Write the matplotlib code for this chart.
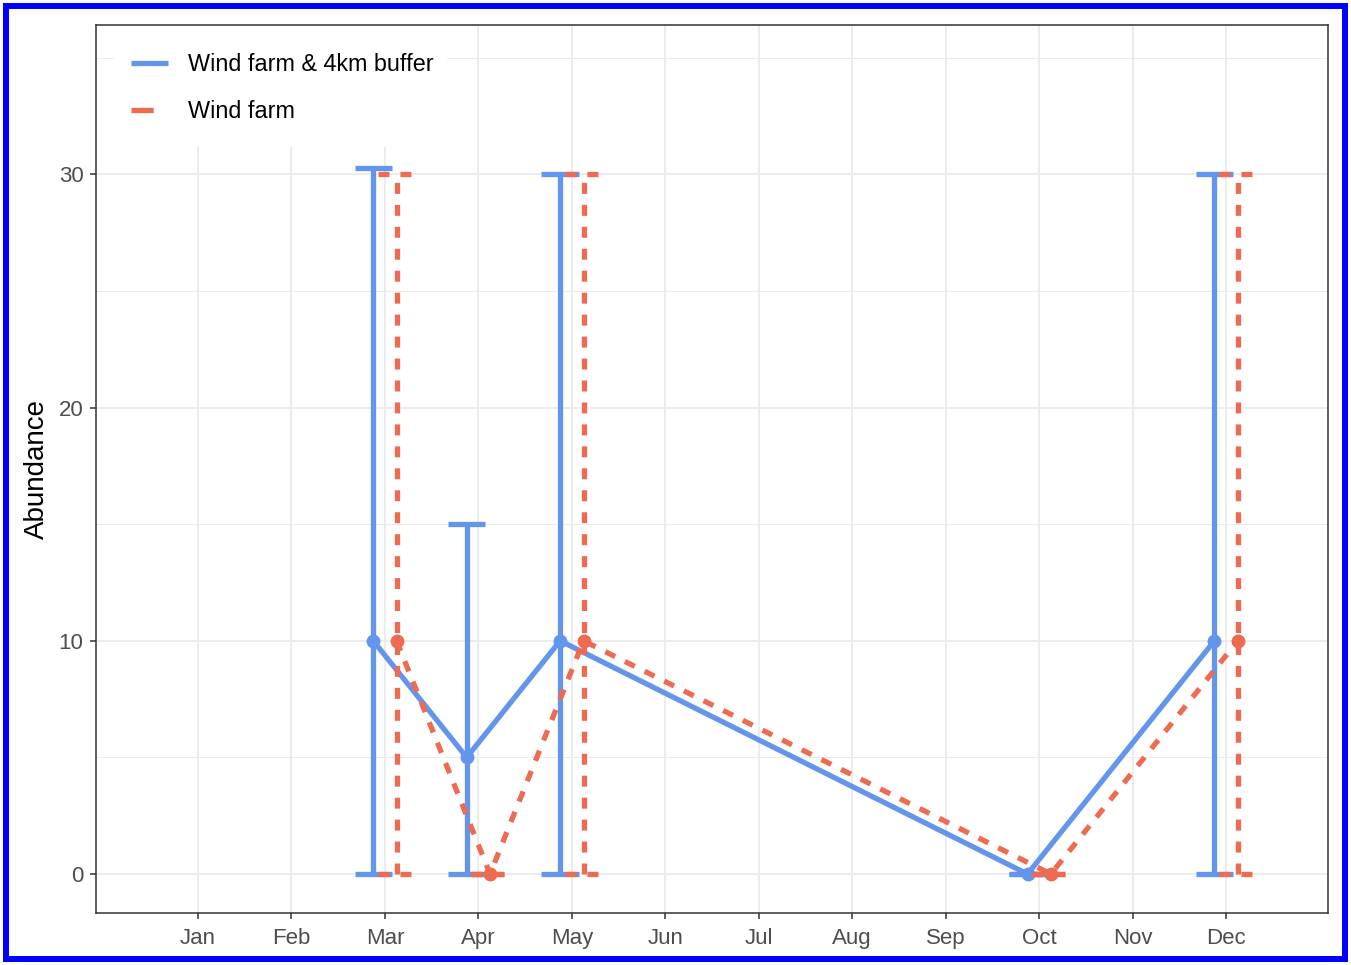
import matplotlib.pyplot as plt
from matplotlib.lines import Line2D
from matplotlib.patches import Rectangle

plt.rcParams['font.family'] = ['Liberation Sans', 'DejaVu Sans']

month_labels = ['Jan', 'Feb', 'Mar', 'Apr', 'May', 'Jun',
                'Jul', 'Aug', 'Sep', 'Oct', 'Nov', 'Dec']
survey_months = [3, 4, 5, 10, 12]

# Wind farm & 4km buffer
buffer_mean = [10, 5, 10, 0, 10]
buffer_low = [0, 0, 0, 0, 0]
buffer_high = [30.25, 15, 30, 0, 30]

# Wind farm only
farm_mean = [10, 0, 10, 0, 10]
farm_low = [0, 0, 0, 0, 0]
farm_high = [30, 0, 30, 0, 30]

series_names = ['Wind farm & 4km buffer', 'Wind farm']

BLUE = '#6495ED'
RED = '#EE6A50'
LW = 3.8
DASH = (0, (2.08, 2.08))
DODGE = 0.125
CAP = 0.2

fig = plt.figure(figsize=(13.51, 9.65), dpi=100)
ax = fig.add_axes([0.0711, 0.0539, 0.9119, 0.9202])


def draw_series(offset, mean, low, high, color, ls, z):
    xs = [m + offset for m in survey_months]
    caps_x0 = [x - CAP for x in xs]
    caps_x1 = [x + CAP for x in xs]
    for coll in (ax.vlines(xs, low, high, colors=color, linewidth=LW, linestyles=ls, zorder=z),
                 ax.hlines(low, caps_x0, caps_x1, colors=color, linewidth=LW, linestyles=ls, zorder=z),
                 ax.hlines(high, caps_x0, caps_x1, colors=color, linewidth=LW, linestyles=ls, zorder=z)):
        coll.set_capstyle('butt')
    line, = ax.plot(xs, mean, color=color, linewidth=LW, linestyle=ls, zorder=z + 0.1)
    line.set_dash_capstyle('butt')
    line.set_solid_capstyle('butt')
    ax.plot(xs, mean, 'o', color=color, markersize=10, markeredgewidth=0, zorder=z + 0.2)


draw_series(-DODGE, buffer_mean, buffer_low, buffer_high, BLUE, '-', 3)
draw_series(DODGE, farm_mean, farm_low, farm_high, RED, DASH, 4)

ax.set_xlim(-0.09, 13.09)
ax.set_ylim(-1.67, 36.4)
ax.set_xticks(range(1, 13))
ax.set_xticklabels(month_labels)
ax.set_yticks([0, 10, 20, 30])
ax.set_yticks([5, 15, 25, 35], minor=True)
ax.tick_params(axis='both', which='major', labelsize=16, labelcolor='#4D4D4D',
               color='#333333', length=4, width=1.1)
ax.tick_params(axis='x', which='major', pad=7)
ax.tick_params(axis='y', which='major', pad=5)
ax.tick_params(axis='y', which='minor', length=0)

ax.grid(True, which='major', color='#EBEBEB', linewidth=1.3, zorder=0)
ax.grid(True, which='minor', axis='y', color='#EBEBEB', linewidth=0.7, zorder=0)
ax.set_axisbelow(True)
for sp in ax.spines.values():
    sp.set_color('#333333')
    sp.set_linewidth(1.1)

ax.set_ylabel('Abundance', fontsize=20, color='black', labelpad=6)

# white legend background that hides the grid behind it
ax.add_patch(Rectangle((0.0146, 0.8626), 0.2704, 0.1374, transform=ax.transAxes,
                       facecolor='white', edgecolor='none', zorder=1))

handles = [
    Line2D([], [], color=BLUE, linewidth=LW, solid_capstyle='butt'),
    Line2D([], [], color=RED, linewidth=LW, linestyle=(0, (4.2, 4)), dash_capstyle='butt'),
]
leg = ax.legend(handles, series_names, loc='upper left', bbox_to_anchor=(0.0284, 0.9684),
                borderaxespad=0, borderpad=0, fontsize=16.8, frameon=False,
                handlelength=1.6, handletextpad=0.83, labelspacing=1.02)
leg.set_zorder(10)

# blue frame around the whole picture
fig.patches.append(Rectangle((0.0045, 0.006), 0.991, 0.988, transform=fig.transFigure,
                             fill=False, edgecolor='#0000FF', linewidth=4.3, zorder=20))

fig.savefig('out.png', dpi=100)
